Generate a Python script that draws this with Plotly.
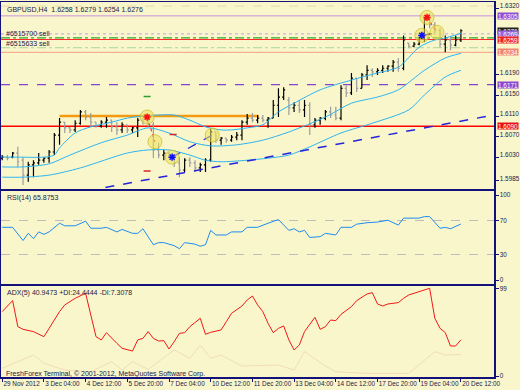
import plotly.graph_objects as go

# ---------------- data ----------------
bar_idx = list(range(89))
opens = [1.6028,1.6030,1.6030,1.6038,1.6024,1.5995,1.6015,1.6019,1.6024,1.6028,
         1.6040,1.6073,1.6098,1.6087,1.6083,1.6096,1.6118,1.6108,1.6098,1.6091,
         1.6098,1.6102,1.6089,1.6083,1.6093,1.6083,1.6087,1.6102,1.6098,1.6093,
         1.6044,1.6034,1.6038,1.6030,1.6019,1.6005,1.6024,1.6019,1.6009,1.6015,
         1.6024,1.6079,1.6063,1.6067,1.6063,1.6069,1.6073,1.6098,1.6106,1.6102,
         1.6106,1.6102,1.6106,1.6131,1.6147,1.6141,1.6126,1.6131,1.6122,1.6131,
         1.6093,1.6102,1.6106,1.6118,1.6112,1.6106,1.6164,1.6155,1.6184,1.6164,
         1.6190,1.6199,1.6196,1.6199,1.6203,1.6207,1.6215,1.6203,1.6252,1.6246,
         1.6250,1.6262,1.6297,1.6287,1.6277,1.6250,1.6258,1.6248,1.6258]
highs = [1.6034,1.6034,1.6040,1.6050,1.6030,1.6021,1.6024,1.6038,1.6030,1.6044,
         1.6077,1.6106,1.6098,1.6089,1.6102,1.6122,1.6122,1.6116,1.6098,1.6102,
         1.6108,1.6102,1.6098,1.6098,1.6093,1.6089,1.6106,1.6106,1.6114,1.6098,
         1.6058,1.6044,1.6040,1.6034,1.6030,1.6028,1.6030,1.6024,1.6019,1.6028,
         1.6085,1.6079,1.6069,1.6067,1.6073,1.6079,1.6102,1.6114,1.6116,1.6112,
         1.6112,1.6108,1.6141,1.6164,1.6166,1.6147,1.6137,1.6141,1.6141,1.6137,
         1.6106,1.6108,1.6122,1.6128,1.6128,1.6170,1.6170,1.6194,1.6184,1.6194,
         1.6209,1.6203,1.6203,1.6209,1.6209,1.6219,1.6223,1.6267,1.6252,1.6254,
         1.6264,1.6302,1.6310,1.6293,1.6281,1.6267,1.6264,1.6267,1.6279]
lows = [1.6024,1.6024,1.6028,1.6011,1.5976,1.5982,1.5991,1.6015,1.6019,1.6019,
        1.6034,1.6054,1.6077,1.6077,1.6079,1.6093,1.6102,1.6089,1.6087,1.6087,
        1.6087,1.6079,1.6073,1.6077,1.6077,1.6077,1.6069,1.6093,1.6089,1.6028,
        1.6028,1.6024,1.6028,1.6011,1.5991,1.6001,1.6011,1.6001,1.6001,1.6001,
        1.6021,1.6058,1.6054,1.6058,1.6060,1.6063,1.6063,1.6093,1.6098,1.6096,
        1.6098,1.6087,1.6106,1.6108,1.6141,1.6112,1.6118,1.6116,1.6108,1.6073,
        1.6087,1.6093,1.6102,1.6106,1.6102,1.6102,1.6147,1.6151,1.6157,1.6164,
        1.6180,1.6186,1.6190,1.6194,1.6196,1.6196,1.6196,1.6199,1.6242,1.6244,
        1.6248,1.6254,1.6281,1.6271,1.6244,1.6234,1.6238,1.6246,1.6254]
closes = [1.6030,1.6028,1.6038,1.6021,1.5995,1.6015,1.6019,1.6024,1.6028,1.6040,
          1.6073,1.6098,1.6087,1.6083,1.6096,1.6118,1.6108,1.6098,1.6091,1.6098,
          1.6102,1.6089,1.6083,1.6093,1.6083,1.6087,1.6102,1.6098,1.6093,1.6044,
          1.6034,1.6038,1.6030,1.6019,1.6005,1.6024,1.6019,1.6009,1.6015,1.6024,
          1.6079,1.6063,1.6067,1.6063,1.6069,1.6073,1.6098,1.6106,1.6102,1.6106,
          1.6102,1.6106,1.6131,1.6147,1.6161,1.6126,1.6131,1.6122,1.6131,1.6093,
          1.6102,1.6106,1.6118,1.6112,1.6106,1.6164,1.6155,1.6184,1.6164,1.6190,
          1.6199,1.6196,1.6199,1.6203,1.6207,1.6215,1.6203,1.6258,1.6246,1.6250,
          1.6262,1.6297,1.6287,1.6277,1.6250,1.6258,1.6248,1.6258,1.6276]

band_up_x = [0,3,8,10,11,14,17,21,24,27,30,33,36,39,42,44,47,50,53,56,61,67,72,76,80,83,85,88]
band_up_y = [1.6030,1.6030,1.6030,1.6034,1.6048,1.6077,1.6089,1.6098,1.6106,1.6110,
             1.6112,1.6112,1.6102,1.6089,1.6083,1.6083,1.6087,1.6093,1.6118,1.6135,
             1.6161,1.6180,1.6194,1.6205,1.6244,1.6258,1.6262,1.6271]
band_mid_x = [0,4,9,13,19,24,28,32,36,40,45,50,55,62,67,72,76,81,85,88]
band_mid_y = [1.6011,1.6011,1.6017,1.6034,1.6058,1.6073,1.6087,1.6077,1.6060,1.6052,
              1.6054,1.6063,1.6079,1.6108,1.6135,1.6147,1.6161,1.6199,1.6223,1.6232]
band_lo_x = [0,4,9,15,24,28,32,36,39,42,47,51,55,59,65,71,78,81,85,88]
band_lo_y = [1.5991,1.5991,1.5995,1.6009,1.6038,1.6044,1.6044,1.6034,1.6024,1.6021,
             1.6024,1.6028,1.6034,1.6050,1.6077,1.6096,1.6122,1.6151,1.6186,1.6199]

rsi_x = [0,2,4,5,6,7,8,9,11,12,14,16,17,19,20,22,23,25,26,27,29,30,31,33,34,35,37,38,39,40,
         41,43,44,46,47,49,51,53,55,56,57,58,59,61,62,64,65,67,68,70,72,74,76,77,80,81,82,84,85,86,88]
rsi_v = [62.0,62.0,46.5,54.9,48.7,56.6,53.7,56.6,66.8,63.8,63.8,69.2,60.9,60.9,62.0,56.6,59.5,54.9,54.9,60.3,
         41.5,44.0,44.0,40.4,36.8,44.0,42.2,39.7,41.5,58.4,53.0,53.0,56.6,56.6,62.0,62.0,66.8,71.1,58.4,60.3,
         56.6,58.4,50.1,51.0,54.9,53.0,62.0,62.0,65.7,67.4,68.2,70.3,64.6,72.8,72.8,74.6,74.6,60.9,62.0,60.3,65.9]

adx_x = [0,2,3,4,6,8,9,11,12,14,16,17,18,19,20,22,23,25,26,27,28,29,30,31,32,33,34,35,36,38,
         39,40,42,43,44,46,47,48,49,50,51,52,53,54,55,56,57,58,60,61,62,63,64,65,67,68,70,71,72,73,
         74,76,77,78,80,81,82,83,84,85,86,87,88]
adx_v = [72.7,85.1,55.7,52.7,50.1,44.4,53.8,72.7,80.2,87.7,93.3,67.0,44.4,40.7,48.9,36.9,31.3,28.2,40.7,42.5,
         50.1,42.5,39.5,39.9,30.5,38.8,48.2,48.9,55.7,65.1,47.1,49.3,52.0,61.4,70.8,79.0,85.8,90.3,80.2,72.7,
         59.5,48.9,53.8,56.5,40.7,29.4,35.0,50.1,66.3,52.7,55.7,63.2,62.5,69.6,78.3,85.1,92.6,94.1,81.3,79.0,
         81.3,82.8,87.7,91.5,95.2,97.1,99.0,65.1,53.8,49.0,33.9,33.9,40.9]
di_x = [0,6,8,12,17,21,23,25,28,33,36,38,40,42,46,53,56,58,62,64,70,78,83,85,88]
di_v = [8.7,23.7,14.3,6.8,4.9,16.2,6.8,16.2,7.5,29.4,20.0,35.0,20.0,23.7,11.3,12.4,6.8,27.5,11.3,4.9,3.0,3.0,27.5,23.7,24.4]

x_tick_idx = [0,8,16,24,32,40,48,56,64,72,80,88]
x_tick_txt = ["29 Nov 2012","3 Dec 04:00","4 Dec 12:00","5 Dec 20:00","7 Dec 04:00","10 Dec 12:00",
              "11 Dec 20:00","13 Dec 04:00","14 Dec 12:00","17 Dec 20:00","19 Dec 04:00","20 Dec 12:00"]
price_ticks = [1.6320,1.6190,1.6150,1.6110,1.6070,1.6030,1.5985]

# horizontal level lines: price, colour, dash, width
levels = [(1.6324,"#E6D9A8","dash",1),(1.6305,"#C890E0","solid",1),(1.6270,"#C8B0E8","dot",1.2),
          (1.6262,"#2CA82C","dashdot",1.2),(1.6259,"#FF2A2A","solid",1),(1.6243,"#B9E0A0","dashdot",1.2),
          (1.6234,"#F2A080","solid",1),(1.6171,"#8A44CC","dash",1.3),(1.6090,"#FF0000","solid",1.6)]
boxes = [(1.6305,"#8E4FD6"),(1.6276,"#202020"),(1.6269,"#9466DA"),(1.6259,"#F02424"),
         (1.6234,"#F38272"),(1.6171,"#8A48D2"),(1.6090,"#E81212")]
orange_seg = (11, 49.2, 1.6110)
trend_pts = ([19.8, 94.3], [1.5971, 1.6112])
circle_x = [27.8,29.3,32.6,40.3,81.5,80.5,83.4]
circle_y = [1.6108,1.6060,1.6030,1.6073,1.6302,1.6267,1.6273]

BG = "#F9F6CB"
NAVY = "#12127A"
TXT = "#1A1A48"
FONT = "Liberation Sans"
FS = 7
FT = 6.4

fig = go.Figure()

fig.add_trace(go.Ohlc(x=bar_idx, open=opens, high=highs, low=lows, close=closes,
                      increasing_line_color="#000000", decreasing_line_color="#9C9C9C",
                      line_width=1.2, tickwidth=0.3, xaxis="x", yaxis="y", hoverinfo="skip"))

for bx, by in [(band_up_x, band_up_y), (band_mid_x, band_mid_y), (band_lo_x, band_lo_y)]:
    fig.add_trace(go.Scatter(x=bx, y=by, mode="lines", line=dict(color="#2EB4F0", width=1, shape="spline", smoothing=0.8),
                             xaxis="x", yaxis="y", hoverinfo="skip"))

# trend line and zigzags
fig.add_trace(go.Scatter(x=trend_pts[0], y=trend_pts[1], mode="lines",
                         line=dict(color="#2424D8", width=1.5, dash="dash"), xaxis="x", yaxis="y"))
fig.add_trace(go.Scatter(x=[27.8,29.3], y=[1.6108,1.6060], mode="lines", line=dict(color="#FF3030", width=1.2, dash="dot"), xaxis="x", yaxis="y"))
fig.add_trace(go.Scatter(x=[81.5,83.4], y=[1.6302,1.6273], mode="lines", line=dict(color="#FF3030", width=1.2, dash="dot"), xaxis="x", yaxis="y"))
fig.add_trace(go.Scatter(x=[32.6,40.3], y=[1.6030,1.6073], mode="lines", line=dict(color="#2424D8", width=1.2, dash="dash"), xaxis="x", yaxis="y"))
fig.add_trace(go.Scatter(x=[80.5,82.4], y=[1.6267,1.6270], mode="lines", line=dict(color="#2424D8", width=1.5), xaxis="x", yaxis="y"))

# circles and markers
fig.add_trace(go.Scatter(x=circle_x, y=circle_y, mode="markers",
                         marker=dict(size=14, color="rgba(236,226,90,0.55)", line=dict(color="rgba(205,190,50,0.8)", width=1)),
                         xaxis="x", yaxis="y"))
fig.add_trace(go.Scatter(x=[27.8,81.5], y=[1.6108,1.6302], mode="markers",
                         marker=dict(size=6, symbol="asterisk-open", color="#FF1010", line=dict(color="#FF1010", width=1.5)), xaxis="x", yaxis="y"))
fig.add_trace(go.Scatter(x=[32.6,80.5], y=[1.6030,1.6267], mode="markers",
                         marker=dict(size=6, symbol="asterisk-open", color="#1010FF", line=dict(color="#1010FF", width=1.5)), xaxis="x", yaxis="y"))
fig.add_trace(go.Scatter(x=[27.8], y=[1.6148], mode="markers",
                         marker=dict(size=5, symbol="line-ew-open", line=dict(color="#FF5050", width=1.5)), xaxis="x", yaxis="y"))
fig.add_trace(go.Scatter(x=[32.8,27.8], y=[1.6074,1.6003], mode="markers",
                         marker=dict(size=5, symbol="line-ew-open", line=dict(color="#2424D8", width=1.5)), xaxis="x", yaxis="y"))

# RSI
fig.add_trace(go.Scatter(x=rsi_x, y=rsi_v, mode="lines", line=dict(color="#1E8CF0", width=1), xaxis="x2", yaxis="y2"))
# ADX
fig.add_trace(go.Scatter(x=di_x, y=di_v, mode="lines", line=dict(color="#F1DDB8", width=1), xaxis="x3", yaxis="y3"))
fig.add_trace(go.Scatter(x=adx_x, y=adx_v, mode="lines", line=dict(color="#F01818", width=1), xaxis="x3", yaxis="y3"))

shapes = []
for p, c, d, w in levels:
    shapes.append(dict(type="line", xref="x domain", yref="y", x0=0, x1=1, y0=p, y1=p,
                       line=dict(color=c, width=w, dash=d), layer="below"))
shapes.append(dict(type="line", xref="x", yref="y", x0=orange_seg[0], x1=orange_seg[1], y0=orange_seg[2], y1=orange_seg[2],
                   line=dict(color="#F39A10", width=2.5), layer="below"))
for v in (70, 30):
    shapes.append(dict(type="line", xref="x2 domain", yref="y2", x0=0, x1=1, y0=v, y1=v,
                       line=dict(color="#BDBDBD", width=1, dash="dash"), layer="below"))

annotations = []
for p, c in boxes:
    annotations.append(dict(x=1.006, xref="paper", y=p, yref="y", text=f"{p:.4f}", showarrow=False,
                            xanchor="left", yanchor="middle", bgcolor=c, borderpad=0, height=6,
                            font=dict(family=FONT, size=FT, color="white")))
texts = [("GBPUSD,H4  1.6258 1.6279 1.6254 1.6276", 0.008, 0.9813),
         ("#6515700 sell", 0.006, 0.9165), ("#6515633 sell", 0.006, 0.8899),
         ("RSI(14) 65.8753", 0.008, 0.4781),
         ("ADX(5) 40.9473 +DI:24.4444 -DI:7.3078", 0.008, 0.2253),
         ("FreshForex Terminal, © 2001-2012, MetaQuotes Software Corp.", 0.006, 0.0072)]
for t, x, y in texts:
    annotations.append(dict(x=x, xref="paper", y=y, yref="paper", text=t, showarrow=False,
                            xanchor="left", yanchor="middle", font=dict(family=FONT, size=FS, color=TXT)))

xr = [-0.23, 94.35]
axis_common = dict(showline=True, mirror=True, linecolor=NAVY, linewidth=1.5, showgrid=False, zeroline=False,
                   automargin=False, tickfont=dict(family=FONT, size=FT, color=TXT))
fig.update_layout(
    template="none",
    width=520, height=390, margin=dict(l=1, r=26, t=2, b=13, autoexpand=False),
    paper_bgcolor=BG, plot_bgcolor=BG, showlegend=False,
    font=dict(family=FONT, size=FS, color=TXT),
    shapes=shapes, annotations=annotations,
    xaxis=dict(domain=[0, 1], anchor="y", range=xr, showticklabels=False, ticks="",
               rangeslider=dict(visible=False), **axis_common),
    yaxis=dict(domain=[0.5, 1], anchor="x", side="right", range=[1.5967, 1.6332],
               tickvals=price_ticks, ticktext=[f"{v:.4f}" for v in price_ticks],
               ticks="outside", ticklen=3, tickcolor=NAVY, ticklabelshift=-2, **axis_common),
    xaxis2=dict(domain=[0, 1], anchor="y2", matches="x", range=xr, showticklabels=False, ticks="", **axis_common),
    yaxis2=dict(domain=[0.248, 0.4973], anchor="x2", side="right", range=[-4.7, 105.3],
                tickvals=[100, 70, 30, 0], ticktext=["100", "70", "30", "0"],
                ticks="outside", ticklen=3, tickcolor=NAVY, **axis_common),
    xaxis3=dict(domain=[0, 1], anchor="y3", matches="x", range=xr, tickangle=0,
                tickvals=x_tick_idx, ticktext=x_tick_txt, ticks="outside", ticklen=3, tickcolor=NAVY,
                ticklabelposition="outside right", **axis_common),
    yaxis3=dict(domain=[0, 0.2453], anchor="x3", side="right", range=[-1.1, 102.7],
                tickvals=[99, 0], ticktext=["99", "0"], ticks="outside", ticklen=3, tickcolor=NAVY, **axis_common),
)

fig.write_html("out.html", config={"displayModeBar": False, "staticPlot": True},
               post_script="document.body.style.margin='0px';document.body.style.overflow='hidden';")
